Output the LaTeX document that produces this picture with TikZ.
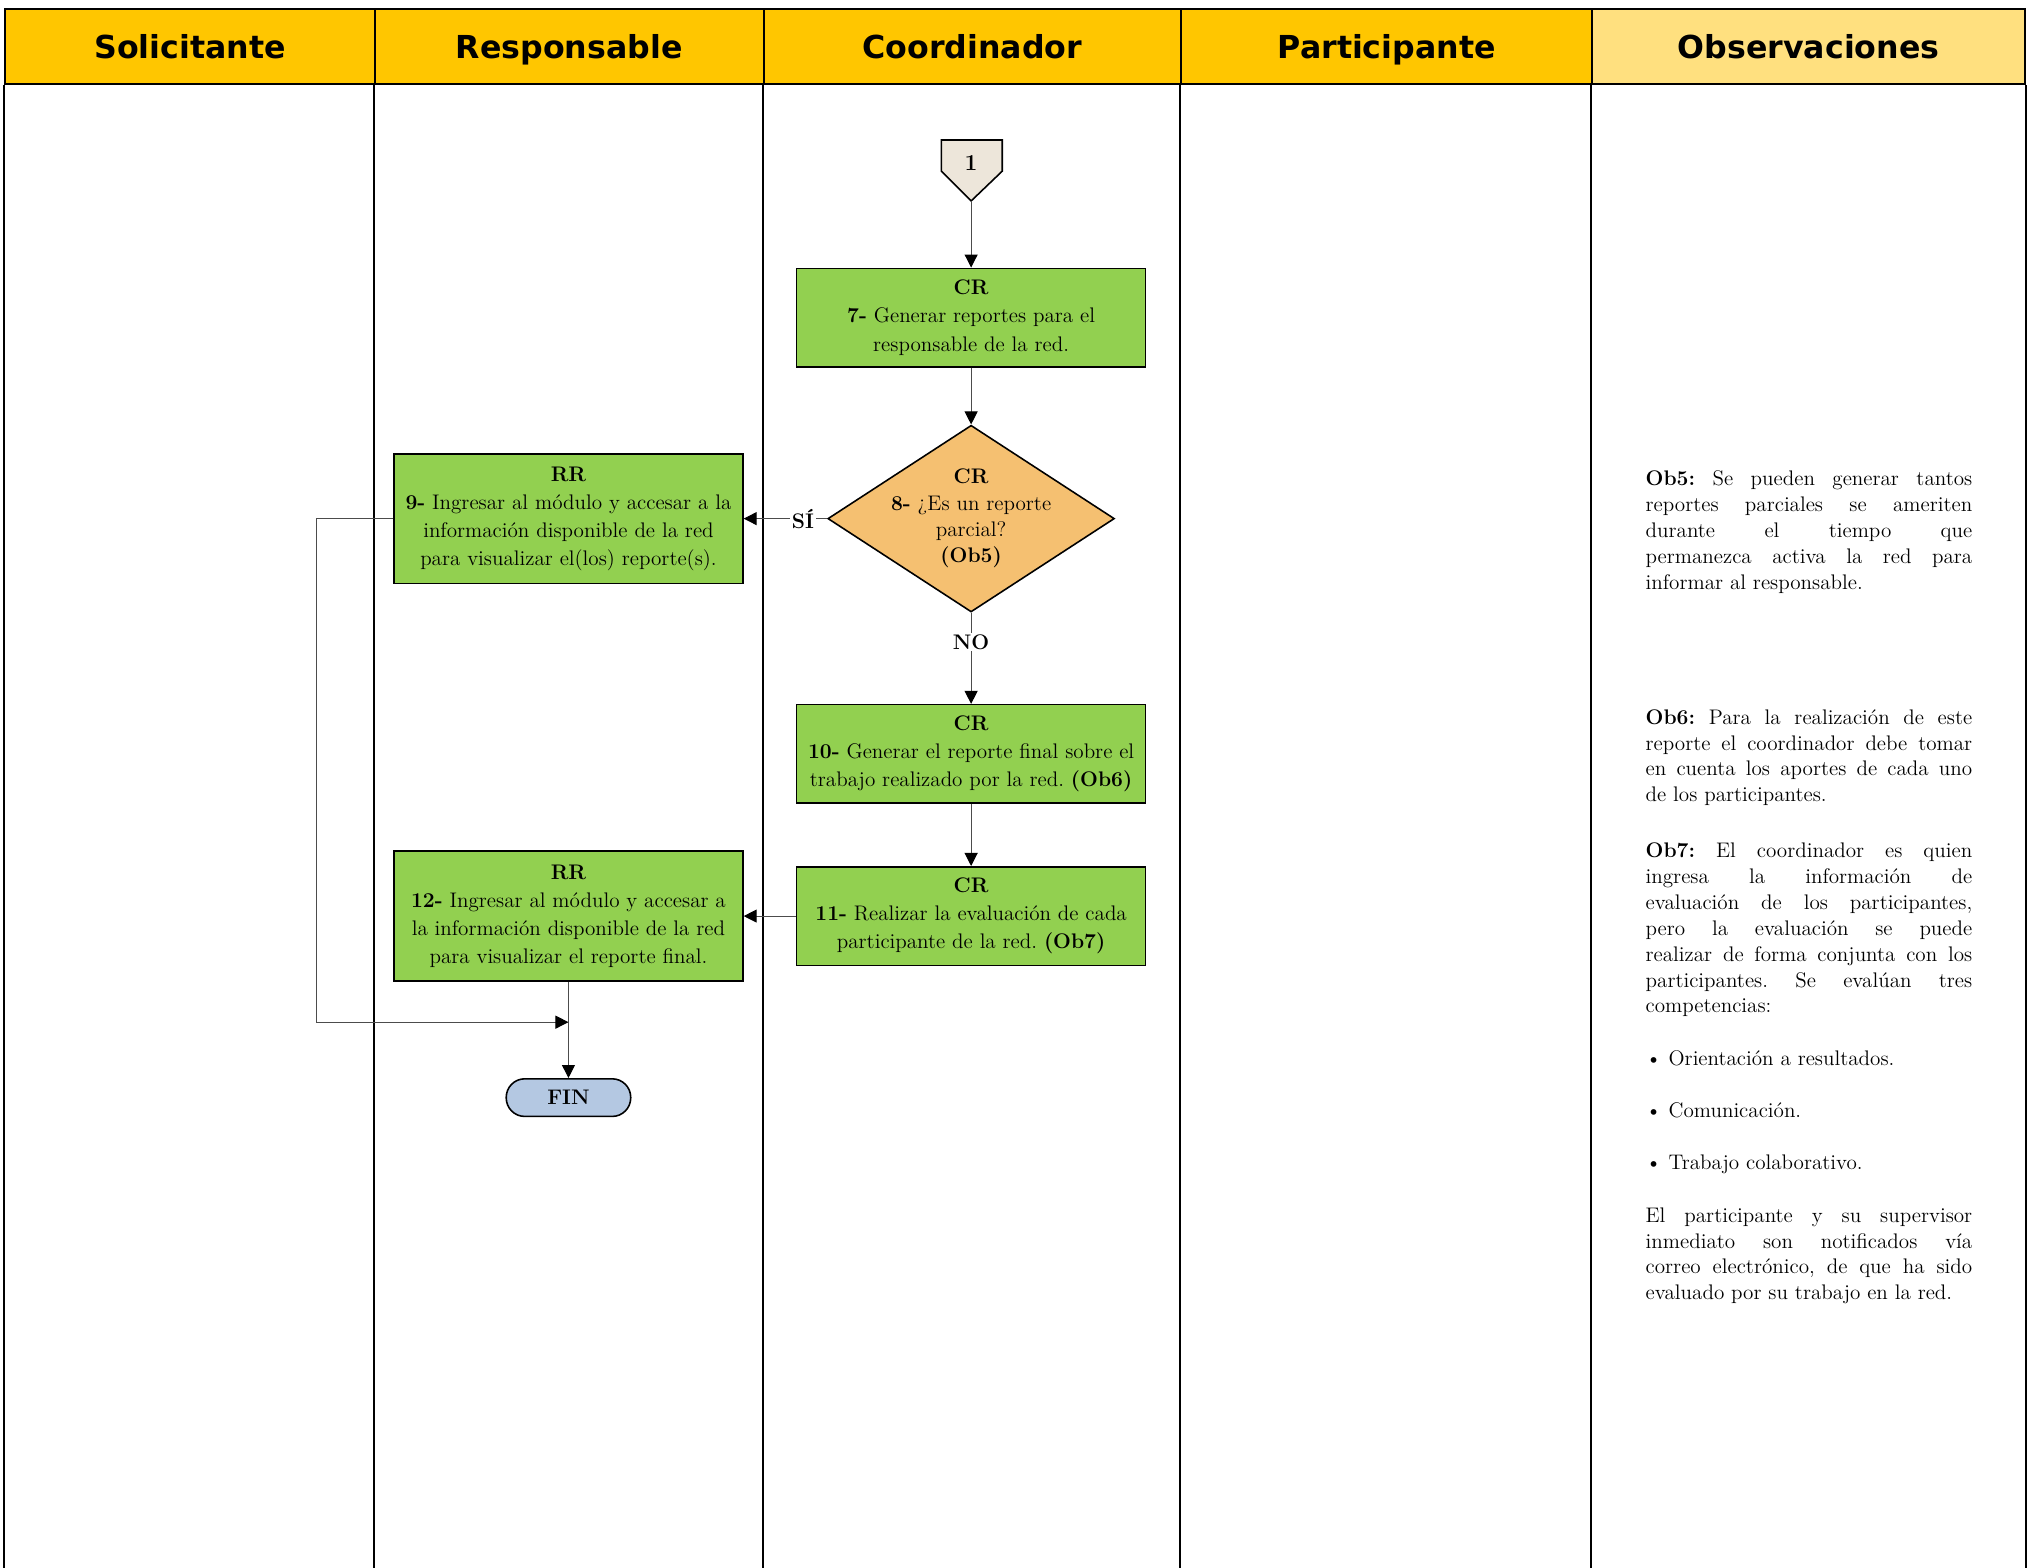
\documentclass[tikz,border=0pt]{standalone}
\usepackage{fontspec}
\newfontfamily\headfont{DejaVu Sans}
\usepackage{tikz}
\usetikzlibrary{shapes, arrows.meta, positioning, calc}
\definecolor{headyellow}{HTML}{FFC600}
\definecolor{obsyellow}{HTML}{FFE07F}
\definecolor{boxgreen}{HTML}{92D050}
\definecolor{decorange}{HTML}{F5C071}
\definecolor{finblue}{HTML}{B4C8E2}
\definecolor{connbeige}{HTML}{EDE6DA}
\tikzstyle{head} = [rectangle, draw=black, line width=1.2pt, minimum height=1.504cm, inner sep=0pt, text height=15pt, text depth=1.6pt, text centered, fill=headyellow, font=\headfont\bfseries\fontsize{18}{20}\selectfont]
\tikzstyle{process} = [rectangle, draw=black, line width=0.9pt, minimum width=6.975cm, minimum height=1.971cm, inner sep=2pt, align=center, fill=boxgreen, font=\fontsize{12}{16}\selectfont]
\tikzstyle{decision} = [diamond, draw=black, line width=0.9pt, minimum width=5.731cm, minimum height=3.734cm, inner sep=0pt, fill=decorange]
\tikzstyle{terminal} = [rectangle, rounded corners=0.37cm, draw=black, line width=0.9pt, minimum width=2.489cm, minimum height=0.752cm, fill=finblue, font=\bfseries\fontsize{12}{14}\selectfont]
\tikzstyle{obs} = [rectangle, text width=6.53cm, align=justify, inner sep=0pt, anchor=north west, font=\fontsize{12}{14.7}\selectfont]
\tikzstyle{answer} = [fill=white, inner sep=1pt, font=\bfseries\fontsize{12}{14}\selectfont]
\tikzstyle{arrow} = [draw=black!70, line width=0.6pt, -{Triangle[length=2.6mm, width=2.6mm, color=black]}]
\tikzstyle{lane} = [line width=1.2pt]
\frenchspacing

\begin{document}
\begin{tikzpicture}[x=0.02593cm, y=-0.02593cm, node distance=4cm]
\useasboundingbox (0,0) rectangle (1568,1208.6);
% encabezados
\node (hSol) [head, minimum width=7.390cm] at (146.5,36) {Solicitante};
\node (hRes) [head, minimum width=7.779cm] at (439,36) {Responsable};
\node (hCoo) [head, minimum width=8.349cm] at (750,36) {Coordinador};
\node (hPar) [head, minimum width=8.220cm] at (1069.5,36) {Participante};
\node (hObs) [head, minimum width=8.661cm, fill=obsyellow] at (1395,36) {Observaciones};
\coordinate (bottom) at (0,1212);
\draw [lane] (hSol.south west) -- (hSol.south west |- bottom);
\draw [lane] (hRes.south west) -- (hRes.south west |- bottom);
\draw [lane] (hCoo.south west) -- (hCoo.south west |- bottom);
\draw [lane] (hPar.south west) -- (hPar.south west |- bottom);
\draw [lane] (hObs.south west) -- (hObs.south west |- bottom);
\draw [lane] (hObs.south east) -- (hObs.south east |- bottom);

% flujo
\node (d8) [decision] at (749,400) {};
\node (d8t) [align=center, font=\fontsize{12}{15}\selectfont] at (d8) {\textbf{CR}\\\textbf{8-} ¿Es un reporte\\parcial?\\\textbf{(Ob5)}};
\node (b7) [process, above of=d8, node distance=4.019cm] {\textbf{CR}\\\textbf{7-} Generar reportes para el\\responsable de la red.};
\coordinate (c1tip) at (749,155);
\draw [fill=connbeige, line width=0.9pt] (726,108) -- (773,108) -- (773,132) -- (c1tip) -- (726,132) -- cycle;
\node (c1) [above of=b7, node distance=3.086cm, font=\bfseries\fontsize{13}{15}\selectfont] {1};
\node (b9) [process, minimum height=2.593cm, left of=d8, node distance=8.051cm] {\textbf{RR}\\\textbf{9-} Ingresar al módulo y accesar a la\\información disponible de la red\\para visualizar el(los) reporte(s).};
\node (b10) [process, below of=d8, node distance=4.706cm] {\textbf{CR}\\\textbf{10-} Generar el reporte final sobre el\\trabajo realizado por la red. \textbf{(Ob6)}};
\node (b11) [process, below of=b10, node distance=3.241cm] {\textbf{CR}\\\textbf{11-} Realizar la evaluación de cada\\participante de la red. \textbf{(Ob7)}};
\node (b12) [process, minimum height=2.593cm, left of=b11, node distance=8.051cm] {\textbf{RR}\\\textbf{12-} Ingresar al módulo y accesar a\\la información disponible de la red\\para visualizar el reporte final.};
\node (fin) [terminal, below of=b12, node distance=3.630cm] {FIN};
\coordinate (merge) at ($(b12.south)!0.42!(fin.north)$);

\draw [arrow] (c1tip) -- (b7);
\draw [arrow] (b7) -- (d8);
\draw [arrow] (d8) -- node (si) [answer, pos=0.29] {SÍ} (b9);
\draw [arrow] (d8) -- node (no) [answer, pos=0.32] {NO} (b10);
\draw [arrow] (b10) -- (b11);
\draw [arrow] (b11) -- (b12);
\draw [arrow] (b9.west) -- ++(-59,0) |- (merge);
\draw [arrow] (b12) -- (fin);

% observaciones
\node (ob5) [obs] at (1269,363) {\tolerance=9999\hbadness=10000
\textbf{Ob5:} Se pueden generar tantos\linebreak reportes parciales se ameriten\linebreak durante el tiempo que\linebreak permanezca activa la red para\linebreak informar al responsable.};
\node (ob6) [obs] at (1269,547) {\tolerance=9999\hbadness=10000
\textbf{Ob6:} Para la realización de este\linebreak reporte el coordinador debe tomar\linebreak en cuenta los aportes de cada uno\linebreak de los participantes.};
\node (ob7) [obs] at (1269,650) {\tolerance=9999\hbadness=10000\setlength{\parskip}{0.53cm}%
\textbf{Ob7:} El coordinador es quien\linebreak ingresa la información de\linebreak evaluación de los participantes,\linebreak pero la evaluación se puede\linebreak realizar de forma conjunta con los\linebreak participantes. Se evalúan tres\linebreak competencias:\par
\textbullet{} Orientación a resultados.\par
\textbullet{} Comunicación.\par
\textbullet{} Trabajo colaborativo.\par
El participante y su supervisor\linebreak inmediato son notificados vía\linebreak correo electrónico, de que ha sido\linebreak evaluado por su trabajo en la red.};
\end{tikzpicture}
\end{document}
